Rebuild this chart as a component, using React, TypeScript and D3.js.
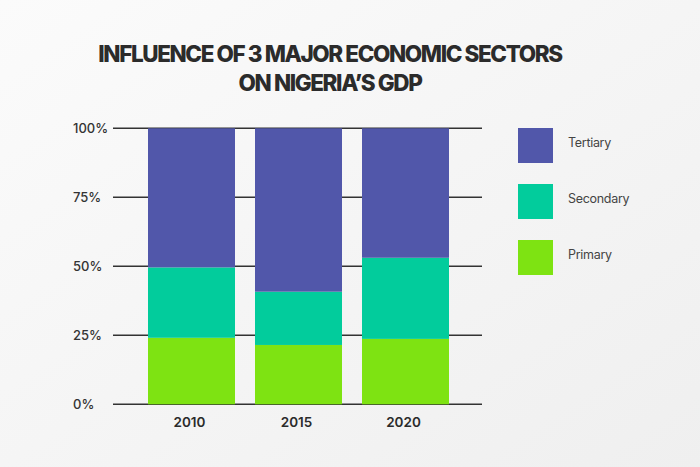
import { useEffect, useRef } from "react";
import * as d3 from "d3";

const years = ["2010", "2015", "2020"];
const sectors = ["Primary", "Secondary", "Tertiary"];
const primary = [24.1, 21.5, 23.7];
const secondary = [25.5, 19.3, 29.4];
const tertiary = [50.4, 59.2, 46.9];
const yTicks = [0, 25, 50, 75, 100];
const legendOrder = ["Tertiary", "Secondary", "Primary"];
const titleLines = ["INFLUENCE OF 3 MAJOR ECONOMIC SECTORS", "ON NIGERIA\u2019S GDP"];

const colors: Record<string, string> = {
  Primary: "#7ee312",
  Secondary: "#02cc9c",
  Tertiary: "#5157aa",
};

const W = 700;
const H = 467;

export default function App() {
  const svgRef = useRef<SVGSVGElement | null>(null);

  useEffect(() => {
    if (!svgRef.current) return;
    const svg = d3.select(svgRef.current);
    svg.selectAll("*").remove();

    // background
    const grad = svg
      .append("defs")
      .append("linearGradient")
      .attr("id", "bg")
      .attr("x1", "0")
      .attr("y1", "0")
      .attr("x2", "1")
      .attr("y2", "1");
    grad.append("stop").attr("offset", "0").attr("stop-color", "#fbfbfb");
    grad.append("stop").attr("offset", "1").attr("stop-color", "#efefef");
    svg.append("rect").attr("width", W).attr("height", H).attr("fill", "url(#bg)");

    // title
    svg
      .append("g")
      .selectAll("text")
      .data(titleLines)
      .join("text")
      .attr("x", 330)
      .attr("y", (_, i) => 62 + i * 29)
      .attr("text-anchor", "middle")
      .attr("fill", "#2b2b2b")
      .style("font-family", "Inter, sans-serif")
      .style("font-weight", 800)
      .style("font-size", "22.5px")
      .style("letter-spacing", "-1.4px")
      .text((d) => d);

    const x = d3
      .scaleBand<string>()
      .domain(years)
      .range([138, 459])
      .paddingInner(0.187)
      .paddingOuter(0.0935);

    const y = d3.scaleLinear().domain([0, 100]).range([404.3, 128.3]);

    // grid lines
    svg
      .append("g")
      .selectAll("line")
      .data(yTicks)
      .join("line")
      .attr("x1", 113)
      .attr("x2", 482)
      .attr("y1", (d) => y(d))
      .attr("y2", (d) => y(d))
      .attr("stroke", "#333")
      .attr("stroke-width", 1.4);

    // y labels
    svg
      .append("g")
      .selectAll("text")
      .data(yTicks)
      .join("text")
      .attr("x", 73)
      .attr("y", (d) => y(d))
      .attr("dy", "0.36em")
      .attr("fill", "#333")
      .style("font-family", "Inter, sans-serif")
      .style("font-weight", 500)
      .style("font-size", "13px")
      .text((d) => `${d}%`);

    // stacked bars
    const rows = years.map((yr, i) => ({
      year: yr,
      Primary: primary[i],
      Secondary: secondary[i],
      Tertiary: tertiary[i],
    }));
    const stacked = d3.stack<(typeof rows)[0]>().keys(sectors)(rows);

    svg
      .append("g")
      .selectAll("g")
      .data(stacked)
      .join("g")
      .attr("fill", (s) => colors[s.key])
      .selectAll("rect")
      .data((s) => s)
      .join("rect")
      .attr("x", (d) => x(d.data.year) ?? 0)
      .attr("width", x.bandwidth())
      .attr("y", (d) => y(Math.min(d[1], 100)))
      .attr("height", (d) => y(d[0]) - y(Math.min(d[1], 100)));

    // x labels
    svg
      .append("g")
      .selectAll("text")
      .data(years)
      .join("text")
      .attr("x", (d) => (x(d) ?? 0) + x.bandwidth() / 2 - 2)
      .attr("y", 427)
      .attr("text-anchor", "middle")
      .attr("fill", "#2b2b2b")
      .style("font-family", "Inter, sans-serif")
      .style("font-weight", 600)
      .style("font-size", "13.5px")
      .text((d) => d);

    // legend
    const legend = svg
      .append("g")
      .selectAll("g")
      .data(legendOrder)
      .join("g")
      .attr("transform", (_, i) => `translate(518, ${128 + i * 56})`);
    legend
      .append("rect")
      .attr("width", 35)
      .attr("height", 35)
      .attr("fill", (d) => colors[d]);
    legend
      .append("text")
      .attr("x", 50)
      .attr("y", 14)
      .attr("dy", "0.36em")
      .attr("fill", "#444")
      .style("font-family", "Inter, sans-serif")
      .style("font-size", "12.5px")
      .style("letter-spacing", "-0.3px")
      .text((d) => d);
  }, []);

  return (
    <svg
      ref={svgRef}
      width={W}
      height={H}
      style={{ position: "absolute", left: 0, top: 0, display: "block" }}
    />
  );
}
